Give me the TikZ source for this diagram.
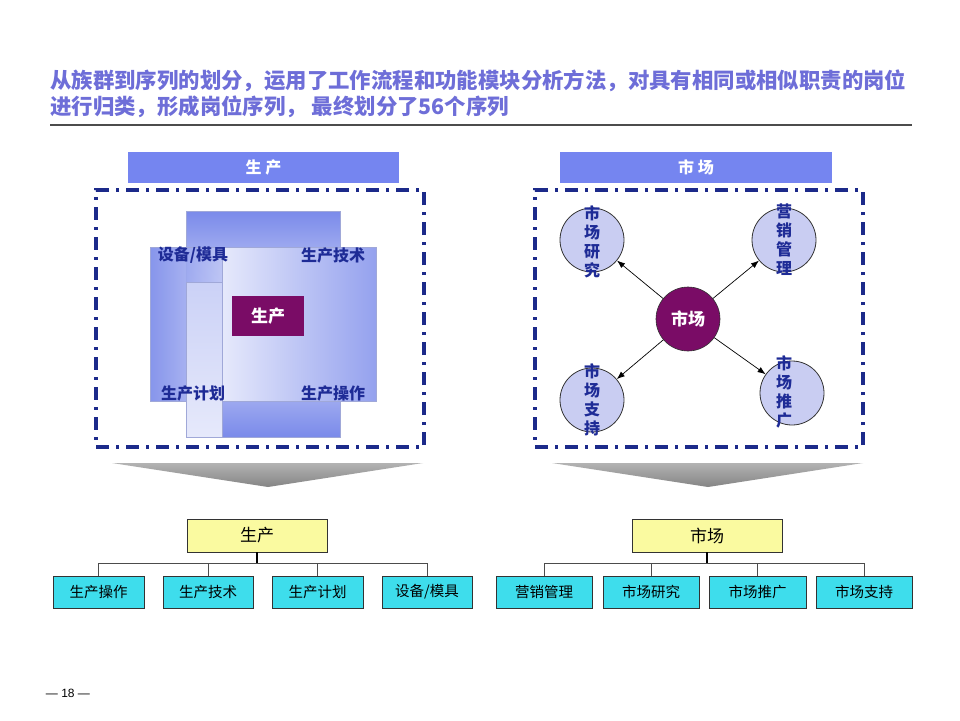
\documentclass[tikz,border=0pt]{standalone}
\usepackage{fontspec}
\setmainfont{Noto Sans CJK SC}
\newfontfamily\latinfont{Liberation Sans}
\usetikzlibrary{arrows.meta,shapes.geometric}
\definecolor{titlec}{HTML}{6E6ED8}
\definecolor{hdrc}{HTML}{7585F0}
\definecolor{navy}{HTML}{1C2A8A}
\definecolor{labc}{HTML}{1E2B96}
\definecolor{purp}{HTML}{7A0C66}
\definecolor{circf}{HTML}{C9CDF2}
\definecolor{yell}{HTML}{FAFAA0}
\definecolor{cyanb}{HTML}{3EDDEC}
\definecolor{sqb}{HTML}{7A8AEA}
\definecolor{sql}{HTML}{E6E9FB}
\definecolor{sqe}{HTML}{A0A8D8}
\tikzset{
  hdr/.style={fill=hdrc, text=white, font=\bfseries\fontsize{16}{16}\selectfont, minimum height=31pt, inner sep=0pt},
  dashbox/.style={draw=navy, line width=3.4pt, dash pattern=on 13pt off 7pt on 3pt off 7pt, minimum width=328pt, minimum height=257pt, inner sep=0pt},
  sqlabel/.style={text=labc, font=\bfseries\fontsize{16}{16}\selectfont, inner sep=0pt},
  purpbox/.style={fill=purp, text=white, font=\bfseries\fontsize{17}{17}\selectfont, minimum width=72pt, minimum height=40pt, inner sep=0pt},
  smallcirc/.style={circle, draw=black!80, line width=0.8pt, fill=circf, minimum size=64pt, inner sep=0pt},
  bigcirc/.style={circle, draw=black!80, line width=0.6pt, fill=purp, text=white, font=\bfseries\fontsize{17}{17}\selectfont, minimum size=64pt, inner sep=0pt},
  vtext/.style={text=labc, font=\bfseries\fontsize{16}{19}\selectfont, align=center, inner sep=0pt},
  arr/.style={-{Latex[length=8pt,width=6pt]}, line width=0.7pt, black},
  ybox/.style={draw=black!80, line width=0.9pt, fill=yell, font=\fontsize{17}{17}\selectfont, minimum height=33pt, inner sep=0pt},
  cbox/.style={draw=black!80, line width=0.9pt, fill=cyanb, font=\fontsize{14.5}{14.5}\selectfont, minimum height=32pt, inner sep=0pt},
  stem/.style={line width=1.8pt, black},
  branch/.style={line width=0.8pt, black!70},
  chev/.style={top color=black!30, bottom color=black!48, draw=none}
}
\begin{document}
\begin{tikzpicture}[x=1pt,y=-1pt]
\useasboundingbox (0,0) rectangle (960,720);
\fill[white] (0,0) rectangle (960,720);

% title
\node[anchor=west, text=titlec, font=\bfseries\fontsize{21.4}{21.4}\selectfont, inner sep=0pt] (t1) at (50,81) {从族群到序列的划分，运用了工作流程和功能模块分析方法，对具有相同或相似职责的岗位};
\node[anchor=west, text=titlec, font=\bfseries\fontsize{21.4}{21.4}\selectfont, inner sep=0pt] (t2) at (50,107) {进行归类，形成岗位序列， 最终划分了56个序列};
\draw[black!70, line width=1.2pt] (50,125) -- (912,125);

% ---------- left panel ----------
\node[hdr, minimum width=271pt] (hdrL) at (263.5,167.5) {生 产};
\node[dashbox] (boxL) at (260,318.5) {};

\shade[top color=sqb, bottom color=sqb, middle color=sql, draw=sqe, line width=0.5pt] (186,211) rectangle (340,437);
\shade[left color=sqb, right color=sqb, middle color=sql, draw=sqe, line width=0.5pt, fill opacity=0.9] (150,247) rectangle (376,401);
\shade[left color=sql, right color=sqb!80, draw=sqe, line width=0.5pt] (222,247) rectangle (376,401);
\shade[top color=sql!75!sqb, bottom color=sql, draw=sqe, line width=0.5pt] (186,282) rectangle (222,437);

\node[purpbox] (prodc) at (268,316) {生产};
\node[sqlabel] (lab1) at (193,255) {设备/模具};
\node[sqlabel] (lab2) at (333,255) {生产技术};
\node[sqlabel] (lab3) at (193,393) {生产计划};
\node[sqlabel] (lab4) at (333,393) {生产操作};

% ---------- right panel ----------
\node[hdr, minimum width=272pt] (hdrR) at (696,167.5) {市 场};
\node[dashbox] (boxR) at (699,318.5) {};

\node[bigcirc] (mc) at (688,319) {市场};
\node[smallcirc] (c1) at (592,240) {};
\node[smallcirc] (c2) at (784,240) {};
\node[smallcirc] (c3) at (592,400) {};
\node[smallcirc] (c4) at (792,393) {};
\node[vtext] (v1) at (592,242) {市\\场\\研\\究};
\node[vtext] (v2) at (784,240) {营\\销\\管\\理};
\node[vtext] (v3) at (592,400) {市\\场\\支\\持};
\node[vtext] (v4) at (784,392) {市\\场\\推\\广};
\draw[arr] (mc) -- (c1);
\draw[arr] (mc) -- (c2);
\draw[arr] (mc) -- (c3);
\draw[arr] (mc) -- (c4);

% ---------- chevrons ----------
\shade[chev] (112,463) -- (423,463) -- (268,487) -- cycle;
\shade[chev] (552,463) -- (863,463) -- (708,487) -- cycle;

% ---------- left org chart ----------
\node[ybox, minimum width=140pt] (yL) at (257,535.5) {生产};
\node[cbox, minimum width=91pt] (cL1) at (98.5,592) {生产操作};
\node[cbox, minimum width=90pt] (cL2) at (208,592) {生产技术};
\node[cbox, minimum width=91pt] (cL3) at (317.5,592) {生产计划};
\node[cbox, minimum width=90pt] (cL4) at (427,592) {设备/模具};
\coordinate (busL) at (257,563);
\draw[branch] (cL1.north) -- (cL1.north |- busL) -- (cL4.north |- busL) -- (cL4.north);
\draw[branch] (cL2.north) -- (cL2.north |- busL);
\draw[branch] (cL3.north) -- (cL3.north |- busL);
\draw[stem] (yL.south) -- (busL);

% ---------- right org chart ----------
\node[ybox, minimum width=150pt] (yR) at (707,535.5) {市场};
\node[cbox, minimum width=96pt] (cR1) at (544,592) {营销管理};
\node[cbox, minimum width=96pt] (cR2) at (651,592) {市场研究};
\node[cbox, minimum width=97pt] (cR3) at (757.5,592) {市场推广};
\node[cbox, minimum width=96pt] (cR4) at (864,592) {市场支持};
\coordinate (busR) at (707,563);
\draw[branch] (cR1.north) -- (cR1.north |- busR) -- (cR4.north |- busR) -- (cR4.north);
\draw[branch] (cR2.north) -- (cR2.north |- busR);
\draw[branch] (cR3.north) -- (cR3.north |- busR);
\draw[stem] (yR.south) -- (busR);

% page number
\node[font=\latinfont\fontsize{12}{12}\selectfont, inner sep=0pt] (pg) at (68,693) {— 18 —};
\end{tikzpicture}
\end{document}
